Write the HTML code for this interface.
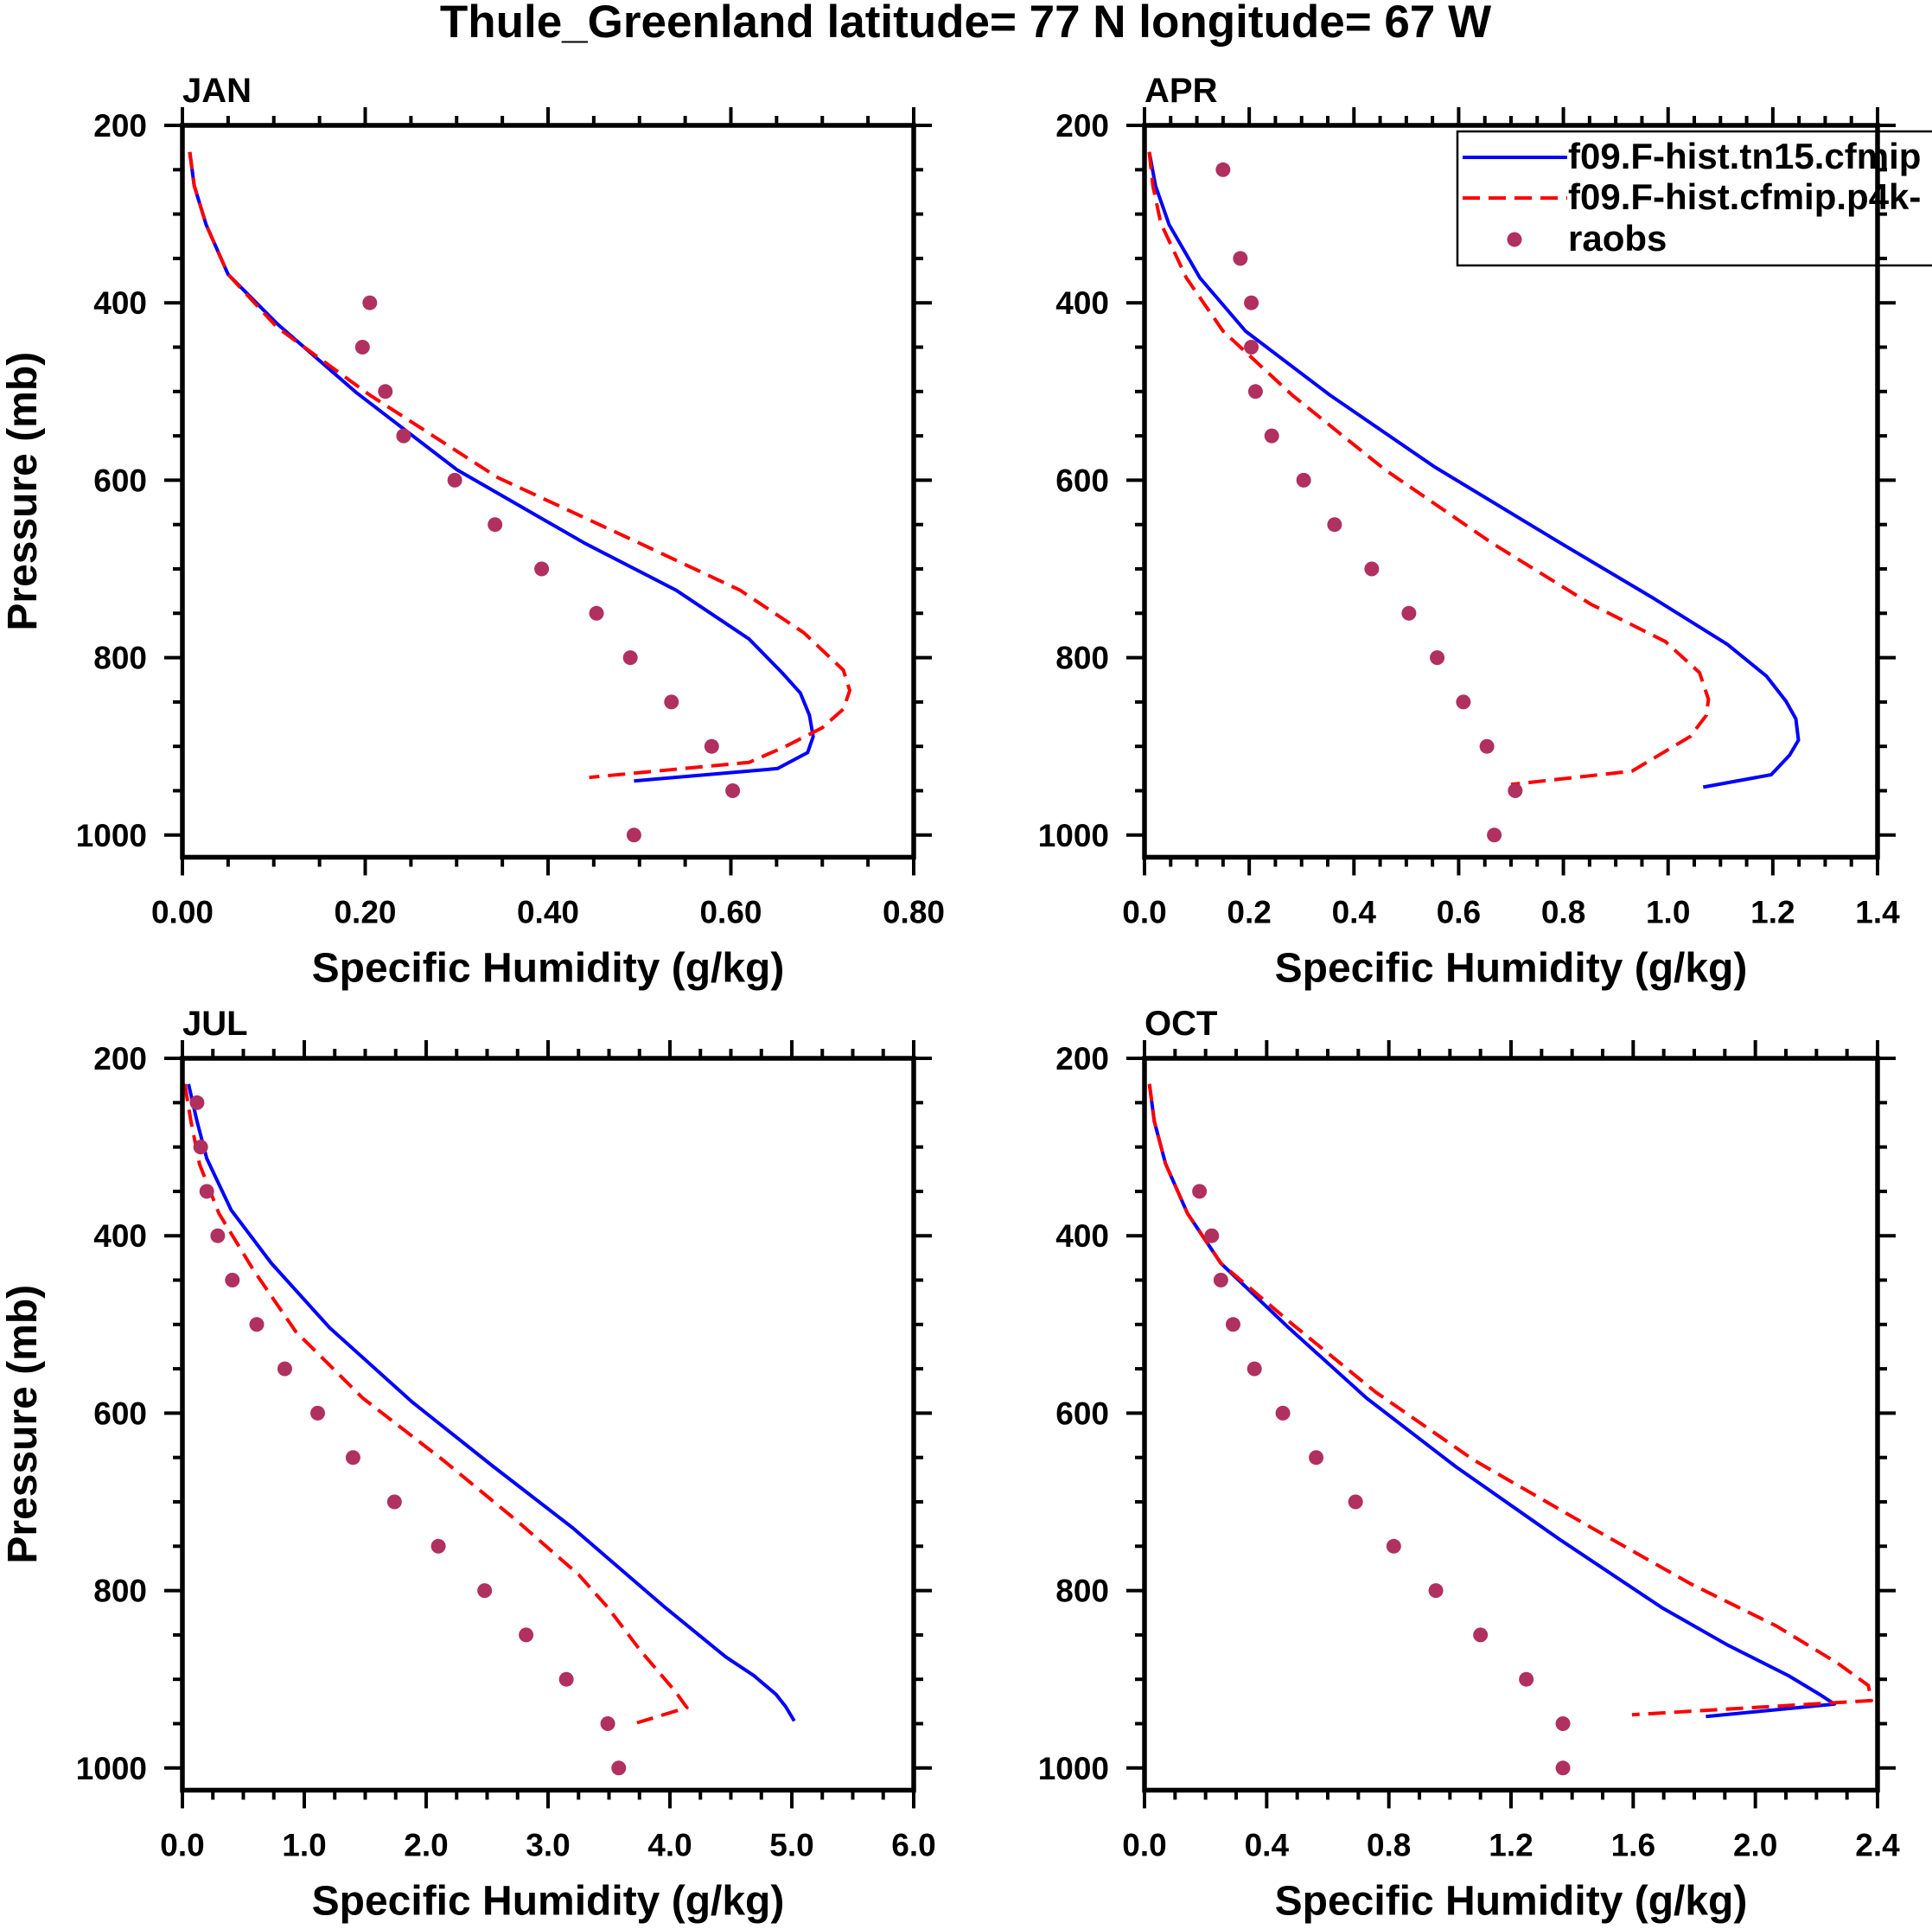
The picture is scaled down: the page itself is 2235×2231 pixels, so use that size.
<!DOCTYPE html>
<html><head><meta charset="utf-8"><style>
html,body{margin:0;padding:0;background:#fff;}
svg{display:block;font-family:"Liberation Sans",sans-serif;font-weight:bold;}
</style></head><body>
<svg id="chart" width="2235" height="2231" viewBox="0 0 2235 2231" xmlns="http://www.w3.org/2000/svg">
<text x="1117" y="43" font-size="53" text-anchor="middle">Thule_Greenland  latitude= 77 N longitude= 67 W</text>
</svg>
<script>
// JAN
const janBlueP=[230,268,312,368,424,501,588,671,724,779,817,840,865,889,907,925,939];
const janBlueV=[.008,.013,.026,.05,.104,.19,.30,.44,.54,.62,.656,.676,.686,.69,.684,.651,.494];
const janRedP=[230,268,312,368,428,504,597,671,724,772,814,837,858,879,900,918,935];
const janRedV=[.008,.013,.026,.05,.104,.205,.345,.50,.61,.68,.723,.73,.723,.70,.66,.62,.445];
const janObsP=[400,450,500,550,600,650,700,750,800,850,900,950,1000];
const janObsV=[.205,.197,.222,.242,.298,.342,.393,.453,.49,.535,.579,.602,.494];
// APR
const aprBlueP=[230,268,312,372,432,504,585,671,733,785,821,849,869,893,910,932,946];
const aprBlueV=[.009,.021,.047,.106,.193,.354,.554,.795,.972,1.113,1.188,1.225,1.244,1.249,1.232,1.197,1.067];
const aprRedP=[230,268,310,372,432,504,588,671,740,782,817,847,865,889,928,943];
const aprRedV=[.009,.016,.031,.08,.15,.282,.459,.664,.853,.995,1.06,1.077,1.073,1.042,.931,.70];
const aprObsP=[250,350,400,450,500,550,600,650,700,750,800,850,900,950,1000];
const aprObsV=[.15,.183,.204,.204,.212,.243,.304,.363,.434,.505,.559,.609,.654,.708,.668];
// JUL
const julBlueP=[229,271,313,371,431,504,588,660,729,819,847,875,896,917,931,947];
const julBlueV=[.05,.12,.2,.4,.73,1.21,1.89,2.55,3.2,3.96,4.21,4.46,4.69,4.87,4.95,5.02];
const julRedP=[229,271,319,375,438,508,583,653,722,782,819,868,913,932,949];
const julRedV=[.02,.07,.14,.3,.58,.93,1.48,2.14,2.75,3.25,3.49,3.76,4.04,4.14,3.73];
const julObsP=[250,300,350,400,450,500,550,600,650,700,750,800,850,900,950,1000];
const julObsV=[.12,.15,.2,.29,.41,.61,.84,1.11,1.4,1.74,2.1,2.48,2.82,3.15,3.49,3.58];
// OCT
const octBlueP=[229,271,319,375,431,504,583,660,743,819,861,896,917,928,942];
const octBlueV=[.016,.032,.069,.141,.25,.473,.727,1.018,1.362,1.693,1.907,2.109,2.21,2.259,1.838];
const octRedP=[229,271,319,375,431,500,576,653,729,792,840,882,907,924,940];
const octRedV=[.016,.032,.069,.141,.25,.485,.756,1.079,1.463,1.786,2.069,2.27,2.37,2.38,1.596];
const octObsP=[350,400,450,500,550,600,650,700,750,800,850,900,950,1000];
const octObsV=[.18,.22,.25,.29,.36,.453,.562,.691,.816,.954,1.1,1.25,1.37,1.37];
// axis ticks
const yTicks=[200,400,600,800,1000];
const janXTicks=["0.00","0.20","0.40","0.60","0.80"];
const aprXTicks=["0.0","0.2","0.4","0.6","0.8","1.0","1.2","1.4"];
const julXTicks=["0.0","1.0","2.0","3.0","4.0","5.0","6.0"];
const octXTicks=["0.0","0.4","0.8","1.2","1.6","2.0","2.4"];

const NS="http://www.w3.org/2000/svg";
const svg=document.getElementById('chart');
function mk(tag,attrs,parent){const e=document.createElementNS(NS,tag);for(const k in attrs)e.setAttribute(k,attrs[k]);(parent||svg).appendChild(e);return e;}

const panels=[
 {name:'jan',title:'JAN',x0:211,x1:1057,top:145,xmax:0.8,xmaj:0.2,xmin:0.05,ticks:janXTicks,bp:janBlueP,bv:janBlueV,rp:janRedP,rv:janRedV,op:janObsP,ov:janObsV},
 {name:'apr',title:'APR',x0:1324,x1:2172,top:145,xmax:1.4,xmaj:0.2,xmin:0.05,ticks:aprXTicks,bp:aprBlueP,bv:aprBlueV,rp:aprRedP,rv:aprRedV,op:aprObsP,ov:aprObsV},
 {name:'jul',title:'JUL',x0:211,x1:1057,top:1224,xmax:6,xmaj:1,xmin:0.25,ticks:julXTicks,bp:julBlueP,bv:julBlueV,rp:julRedP,rv:julRedV,op:julObsP,ov:julObsV},
 {name:'oct',title:'OCT',x0:1324,x1:2172,top:1224,xmax:2.4,xmaj:0.4,xmin:0.1,ticks:octXTicks,bp:octBlueP,bv:octBlueV,rp:octRedP,rv:octRedV,op:octObsP,ov:octObsV}
];
const pyScale=1.026;
panels.forEach(p=>{
 const g=mk('g',{});
 
 
 const X=v=>p.x0+v/p.xmax*(p.x1-p.x0);
 const Y=pr=>p.top+(pr-200)*pyScale;
 const yb=Y(1025);
 const t=mk('text',{x:p.x0,y:p.top-27,'font-size':40},g);t.textContent=p.title;
 
 
 const line=(P,V,col,dash,nm)=>{
  const pts=P.map((pr,i)=>X(V[i]).toFixed(1)+','+Y(pr).toFixed(1)).join(' ');
  const a={points:pts,fill:'none',stroke:col,'stroke-width':4,'stroke-linejoin':'round'};
  if(dash)a['stroke-dasharray']='20 10';
  const l=mk('polyline',a,g);
  
  
 };
 line(p.bp,p.bv,'#0000ff',false,p.name+'-model-line');
 line(p.rp,p.rv,'#ff0000',true,p.name+'-p4k-line');
 p.op.forEach((pr,i)=>{
  const c=mk('circle',{cx:X(p.ov[i]),cy:Y(pr),r:8.5,fill:'#b03060'},g);
  
  
 });
 const f=mk('rect',{x:p.x0,y:p.top,width:p.x1-p.x0,height:yb-p.top,fill:'none',stroke:'#000','stroke-width':5.5},g);
 
 
 for(let pr=200;pr<=1000;pr+=50){
  const maj=pr%200===0, L=maj?21:11, y=Y(pr);
  mk('line',{x1:p.x0,x2:p.x0-L,y1:y,y2:y,stroke:'#000','stroke-width':4},g);
  mk('line',{x1:p.x1,x2:p.x1+L,y1:y,y2:y,stroke:'#000','stroke-width':4},g);
 }
 yTicks.forEach(v=>{
  const tl=mk('text',{x:p.x0-41,y:Y(v)+13,'font-size':37,'text-anchor':'end'},g);tl.textContent=v;
  
  
 });
 const n=Math.round(p.xmax/p.xmin);
 for(let i=0;i<=n;i++){
  const v=i*p.xmin, maj=Math.abs(v/p.xmaj-Math.round(v/p.xmaj))<1e-6, L=maj?21:11, x=X(v);
  mk('line',{x1:x,x2:x,y1:yb,y2:yb+L,stroke:'#000','stroke-width':4},g);
  mk('line',{x1:x,x2:x,y1:p.top,y2:p.top-L,stroke:'#000','stroke-width':4},g);
 }
 p.ticks.forEach((s,i)=>{
  const tl=mk('text',{x:X(i*p.xmaj),y:yb+76,'font-size':37,'text-anchor':'middle'},g);tl.textContent=s;
  
  
 });
 const xt=mk('text',{x:(p.x0+p.x1)/2,y:yb+144,'font-size':48,'text-anchor':'middle'},g);xt.textContent='Specific Humidity (g/kg)';
 
 
 if(p.x0<500){
  const cy=(p.top+yb)/2;
  const yt=mk('text',{x:42,y:cy,'font-size':48,'text-anchor':'middle',transform:'rotate(-90 42 '+cy+')'},g);yt.textContent='Pressure (mb)';
  
  
 }
});
const lg=mk('g',{});


mk('rect',{x:1686,y:152,width:600,height:155,fill:'none',stroke:'#000','stroke-width':2.5},lg);
mk('line',{x1:1692,x2:1813,y1:182,y2:182,stroke:'#0000ff','stroke-width':4},lg);
mk('line',{x1:1692,x2:1813,y1:229,y2:229,stroke:'#ff0000','stroke-width':4,'stroke-dasharray':'20 10'},lg);
mk('circle',{cx:1752,cy:277,r:8.5,fill:'#b03060'},lg);
[['f09.F-hist.tn15.cfmip',195],['f09.F-hist.cfmip.p4k-',242],['raobs',290]].forEach(a=>{
 const t=mk('text',{x:1814,y:a[1],'font-size':42},lg);t.textContent=a[0];
 
 
});
</script>
</body></html>
